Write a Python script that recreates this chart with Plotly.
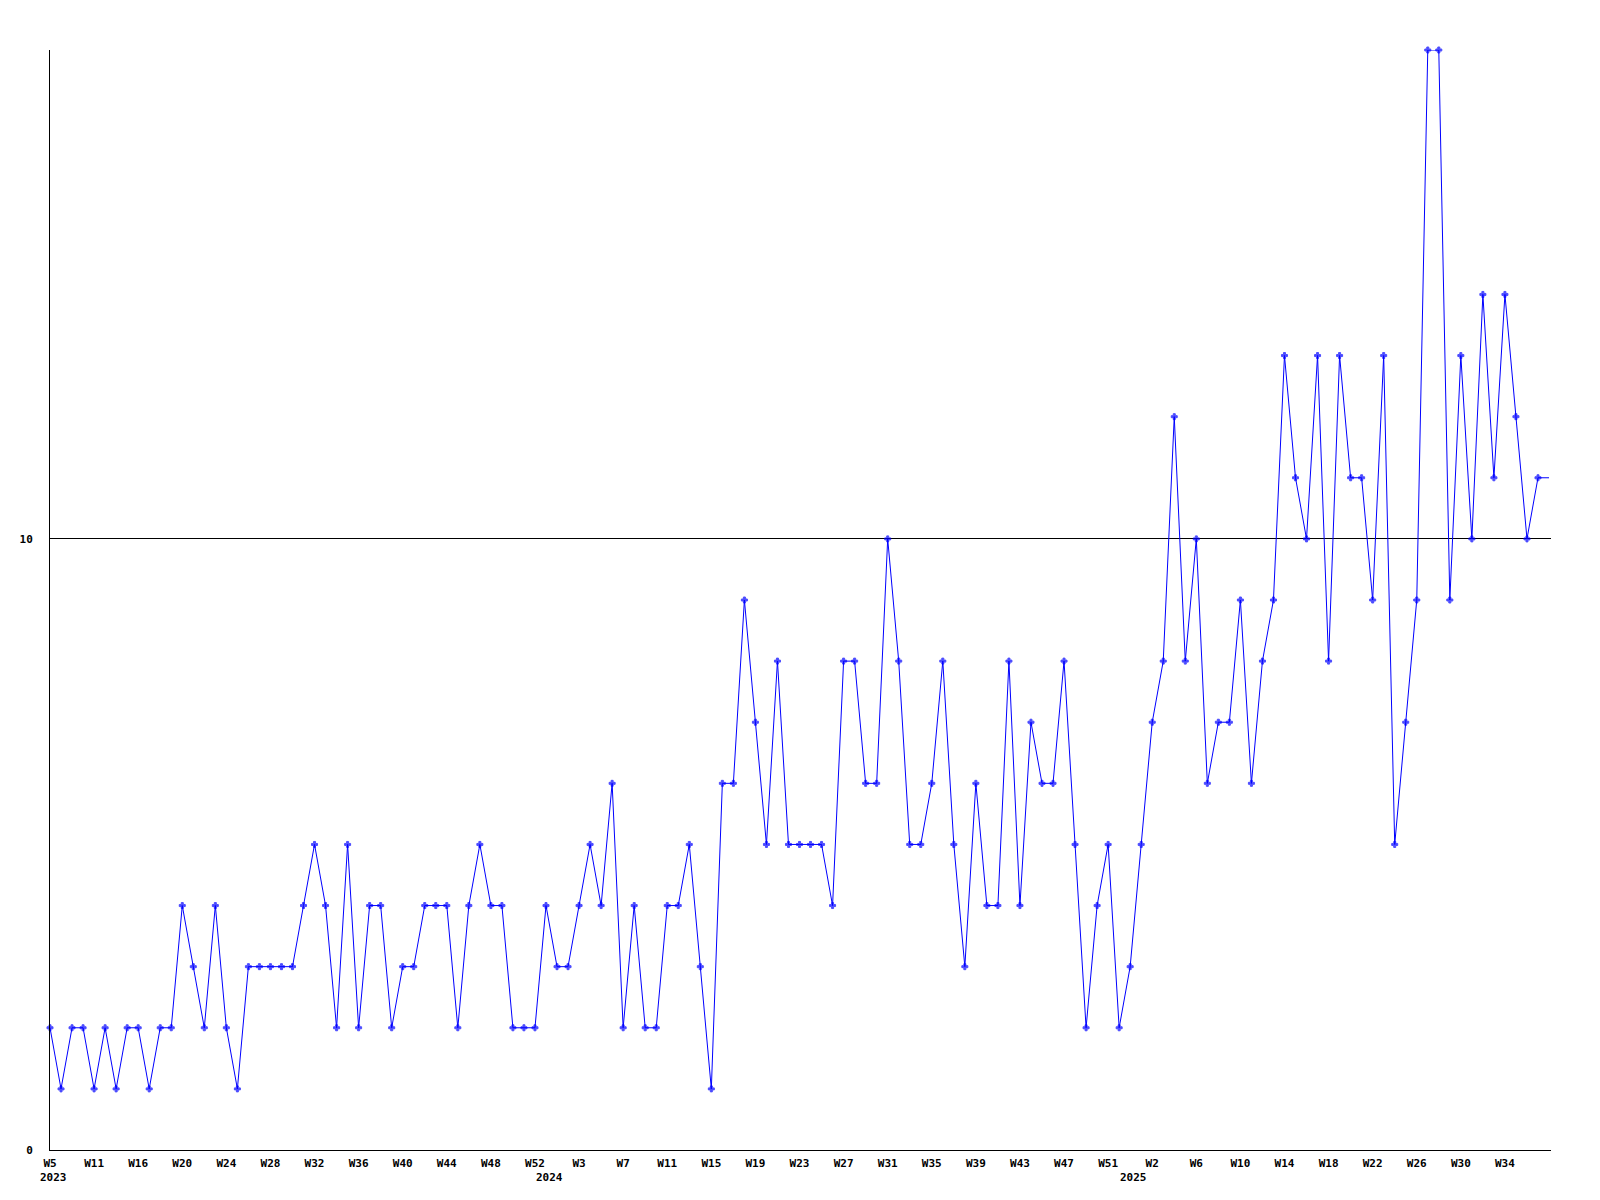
import plotly.graph_objects as go

# weekly counts, 2023 W5 onward (last value runs off the right edge)
values = [
    2, 1, 2, 2, 1, 2, 1, 2, 2, 1, 2, 2,
    4, 3, 2, 4, 2, 1, 3, 3, 3, 3, 3, 4,
    5, 4, 2, 5, 2, 4, 4, 2, 3, 3, 4, 4,
    4, 2, 4, 5, 4, 4, 2, 2, 2, 4, 3, 3,
    4, 5, 4, 6, 2, 4, 2, 2, 4, 4, 5, 3,
    1, 6, 6, 9, 7, 5, 8, 5, 5, 5, 5, 4,
    8, 8, 6, 6, 10, 8, 5, 5, 6, 8, 5, 3,
    6, 4, 4, 8, 4, 7, 6, 6, 8, 5, 2, 4,
    5, 2, 3, 5, 7, 8, 12, 8, 10, 6, 7, 7,
    9, 6, 8, 9, 13, 11, 10, 13, 8, 13, 11, 11,
    9, 13, 5, 7, 9, 18, 18, 9, 13, 10, 14, 11,
    14, 12, 10, 11, 11,
]

week_labels = [
    "W5", "W11", "W16", "W20", "W24", "W28", "W32", "W36", "W40", "W44", "W48", "W52",
    "W3", "W7", "W11", "W15", "W19", "W23", "W27", "W31", "W35", "W39", "W43", "W47", "W51",
    "W2", "W6", "W10", "W14", "W18", "W22", "W26", "W30", "W34",
]
year_labels = ["2023", "2024", "2025"]
year_index = [0, 45, 98]

x = list(range(len(values)))
tick_pos = [i * 4 for i in range(len(week_labels))]
sizes = [5] * (len(values) - 1) + [0]

font = dict(family="DejaVu Sans Mono", size=11, color="black", weight="bold")

fig = go.Figure()
fig.add_trace(go.Scatter(
    x=x, y=values, mode="lines+markers",
    line=dict(color="#0000ff", width=1),
    marker=dict(symbol="cross", size=sizes, color="#0000ff", line=dict(width=1, color="#0000ff")),
    cliponaxis=False, showlegend=False,
))

for label, pos in zip(year_labels, year_index):
    fig.add_annotation(x=pos, y=0, xref="x", yref="paper", text=label, showarrow=False,
                       yanchor="middle", xanchor="center", yshift=-27, xshift=3, font=font)

fig.update_xaxes(range=[0, 136.18], tickvals=tick_pos, ticktext=week_labels, tickfont=font,
                 showline=True, linecolor="black", linewidth=1, showgrid=False, zeroline=False,
                 ticks="outside", ticklen=3, tickcolor="rgba(0,0,0,0)")
fig.update_yaxes(range=[0, 18], tickvals=[0, 10], ticktext=["0", "10"], tickfont=font,
                 showline=True, linecolor="black", linewidth=1, showgrid=True, gridcolor="black",
                 gridwidth=1, zeroline=False, ticks="outside", ticklen=14,
                 tickcolor="rgba(0,0,0,0)")
# page body adds 8px, so shift the plot area up/left by that much
fig.update_layout(width=1600, height=1200, paper_bgcolor="white", plot_bgcolor="white",
                  margin=dict(l=42, r=57, t=42, b=58))

fig.write_html("out.html")
